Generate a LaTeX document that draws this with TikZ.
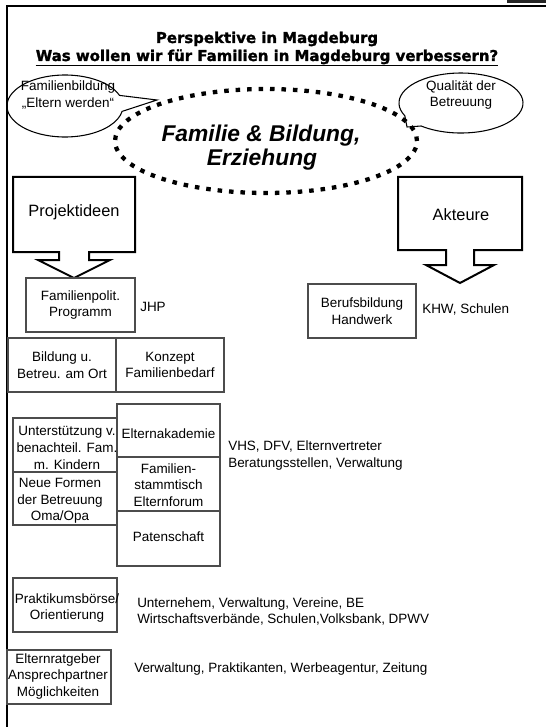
\documentclass[tikz,border=0pt]{standalone}
\usepackage{fontspec}
\setmainfont{Liberation Sans}
\newfontfamily\headfont{DejaVu Sans}[BoldFeatures={FakeBold=1.5}]
\usetikzlibrary{shapes.geometric}
\newcommand\smalltxt{\fontsize{10.1}{12.5}\selectfont}
\newcommand\calltxt{\fontsize{12.3}{14}\selectfont}
\newcommand\coretxt{\fontsize{17.1}{18}\selectfont\bfseries\itshape}
\newcommand\headtxt{\headfont\bfseries\fontsize{11.2}{13.5}\selectfont}
\begin{document}
\begin{tikzpicture}[x=0.75pt,y=-0.75pt,
  frame/.style={line width=1.5pt},
  callout/.style={draw, line width=1.5pt, line join=miter},
  bubble/.style={draw, line width=0.8pt},
  core/.style={draw, ellipse, line width=3.2pt, dash pattern=on 3.4pt off 5.2pt},
  cell/.style 2 args={draw=black!70, line width=0.8pt, inner sep=0pt,
    minimum width=#1*0.75pt, minimum height=#2*0.75pt},
  celltext/.style={inner sep=0pt, align=center, font=\smalltxt},
  note/.style={inner sep=0pt, anchor=west, align=left, font=\smalltxt},
]
\useasboundingbox (0,0) rectangle (546,727);

% corner tab and page frame
\fill[black!85] (507,0) rectangle (546,3.5);
\draw[frame] (7,727) -- (7,6) -- (546,6);

% heading
\node[inner sep=0pt, anchor=base, font=\headtxt] (h1) at (267,43) {Perspektive in Magdeburg};
\node[inner sep=0pt, anchor=base, font=\headtxt] (h2) at (267,61) {Was wollen wir für Familien in Magdeburg verbessern?};
\draw[line width=1.1pt] ([yshift=-3.2pt]h2.base west) -- ([yshift=-3.2pt]h2.base east);

% central theme
\node[core, minimum width=226.5pt, minimum height=78pt] (core) at (266,141) {};
\node[inner sep=0pt, anchor=base, font=\coretxt] (c1) at (261,142) {Familie \& Bildung,};
\node[inner sep=0pt, anchor=base, font=\coretxt] (c2) at (262,166) {Erziehung};

% speech bubbles
\draw[bubble] (119.5,95.4) arc[start angle=-20, end angle=-350, x radius=58, y radius=31] -- (157,100) -- cycle;
\node[celltext] (b1) at (68,95) {Familienbildung\\„Eltern werden“};
\draw[bubble] (404.8,115.7) arc[start angle=155, end angle=490, x radius=62, y radius=30] -- (407,127) -- cycle;
\node[celltext] (b2) at (461,95) {Qualität der\\Betreuung};

% down-arrow callouts
\draw[callout] (13,177) -- (135,177) -- (135,252) -- (89,252) -- (89,260) -- (110,260)
  -- (74,278) -- (38,260) -- (59,260) -- (59,252) -- (13,252) -- cycle;
\node[inner sep=0pt, font=\calltxt] (pi) at (74,212) {Projektideen};
\draw[callout] (398,177) -- (522,177) -- (522,250) -- (474,250) -- (474,265) -- (494,265)
  -- (460,283) -- (426,265) -- (446,265) -- (446,250) -- (398,250) -- cycle;
\node[inner sep=0pt, font=\calltxt] (ak) at (461,215) {Akteure};

% project cells
\node[cell={109}{54}] (fp) at (80.5,305) {};
\node[celltext] (fpt) at (fp) {Familienpolit.\\Programm};
\node[note] (jhp) at (140,307) {JHP};

\node[cell={108}{54}] (bo) at (62,365) {};
\node[celltext] (bot) at (bo) {Bildung u.\\Betreu. am Ort};
\node[cell={108}{54}] (kf) at (170,365) {};
\node[celltext] (kft) at (kf) {Konzept\\Familienbedarf};

\node[cell={104}{54}] (ub) at (65,445) {};
\node[celltext] (ubt) at (67,448) {Unterstützung v.\\benachteil. Fam.\\m. Kindern};
\node[cell={104}{53}] (nf) at (65,498.5) {};
\node[celltext] (nft) at (60,501) {Neue Formen\\der Betreuung\\Oma/Opa};

\node[cell={103}{53}] (ea) at (168.5,430.5) {};
\node[celltext] (eat) at (168.5,434) {Elternakademie};
\node[cell={103}{54}] (fs) at (168.5,484) {};
\node[celltext] (fst) at (168.5,485) {Familien-\\stammtisch\\Elternforum};
\node[cell={103}{55}] (ps) at (168.5,538.5) {};
\node[celltext] (pst) at (168.5,537) {Patenschaft};
\node[note] (vhs) at (228,455.5) {VHS, DFV, Elternvertreter\\Beratungsstellen, Verwaltung};

\node[cell={104}{54}] (pb) at (65,605) {};
\node[celltext] (pbt) at (67,608) {Praktikumsbörse/\\Orientierung};
\node[note] (un) at (137,611.5) {Unternehem, Verwaltung, Vereine, BE\\Wirtschaftsverbände, Schulen,Volksbank, DPWV};

\node[cell={104}{54}] (er) at (59,677) {};
\node[celltext] (ert) at (58,676.5) {Elternratgeber\\Ansprechpartner\\Möglichkeiten};
\node[note] (vw) at (134,669) {Verwaltung, Praktikanten, Werbeagentur, Zeitung};

% actor cell
\node[cell={108}{54}] (bh) at (362,311) {};
\node[celltext] (bht) at (bh) {Berufsbildung\\Handwerk};
\node[note] (khw) at (422,309) {KHW, Schulen};
\end{tikzpicture}
\end{document}
